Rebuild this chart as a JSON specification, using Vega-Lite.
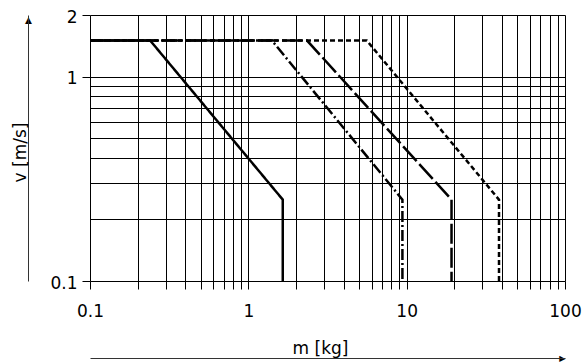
{
  "$schema": "https://vega.github.io/schema/vega-lite/v6.json",
  "width": 475,
  "height": 266,
  "autosize": {"type": "none"},
  "padding": {"left": 90, "top": 15, "right": 18, "bottom": 81},
  "background": "#ffffff",
  "config": {"view": {"stroke": null}, "font": "DejaVu Sans"},
  "data": {
    "values": [
      {"curve": "A", "point": 0, "m": 0.1, "v": 1.5},
      {"curve": "A", "point": 1, "m": 0.24, "v": 1.5},
      {"curve": "A", "point": 2, "m": 1.65, "v": 0.25},
      {"curve": "A", "point": 3, "m": 1.65, "v": 0.1},
      {"curve": "B", "point": 0, "m": 0.1, "v": 1.5},
      {"curve": "B", "point": 1, "m": 1.41, "v": 1.5},
      {"curve": "B", "point": 2, "m": 9.4, "v": 0.25},
      {"curve": "B", "point": 3, "m": 9.4, "v": 0.1},
      {"curve": "C", "point": 0, "m": 0.1, "v": 1.5},
      {"curve": "C", "point": 1, "m": 2.35, "v": 1.5},
      {"curve": "C", "point": 2, "m": 19.2, "v": 0.25},
      {"curve": "C", "point": 3, "m": 19.2, "v": 0.1},
      {"curve": "D", "point": 0, "m": 0.1, "v": 1.5},
      {"curve": "D", "point": 1, "m": 5.6, "v": 1.5},
      {"curve": "D", "point": 2, "m": 38.3, "v": 0.25},
      {"curve": "D", "point": 3, "m": 38.3, "v": 0.1}
    ]
  },
  "resolve": {
    "scale": {"x": "shared", "y": "shared"},
    "axis": {"x": "independent", "y": "independent"}
  },
  "layer": [
    {
      "transform": [{"filter": "datum.curve == 'A' || datum.curve == 'B'"}],
      "mark": {"type": "line", "color": "#000000", "strokeWidth": 2.5, "strokeCap": "butt"},
      "encoding": {
        "x": {
          "field": "m", "type": "quantitative",
          "scale": {"type": "log", "domain": [0.1, 100]},
          "axis": {
            "orient": "bottom",
            "values": [0.1, 0.2, 0.3, 0.4, 0.5, 0.6, 0.7, 0.8, 0.9, 1, 2, 3, 4, 5, 6, 7, 8, 9, 10, 20, 30, 40, 50, 60, 70, 80, 90, 100],
            "title": null,
            "domain": false,
            "grid": true, "gridColor": "#000000", "gridWidth": 1, "gridOpacity": 1,
            "ticks": true, "tickSize": 8, "tickColor": "#000000", "tickWidth": 1,
            "labelExpr": "indexof([0.1, 1, 10, 100], datum.value) >= 0 ? format(datum.value, '~g') : ''",
            "labelFont": "DejaVu Sans", "labelFontSize": 17, "labelColor": "#000000",
            "labelPadding": 14, "labelBaseline": "top",
            "labelFlush": false, "labelOverlap": false, "labelBound": false
          }
        },
        "y": {
          "field": "v", "type": "quantitative",
          "scale": {"type": "log", "domain": [0.1, 2]},
          "axis": {
            "orient": "left",
            "values": [0.1, 0.2, 0.3, 0.4, 0.5, 0.6, 0.7, 0.8, 0.9, 1, 2],
            "title": null,
            "domain": false,
            "grid": true, "gridColor": "#000000", "gridWidth": 1, "gridOpacity": 1,
            "ticks": true, "tickSize": 8, "tickColor": "#000000", "tickWidth": 1,
            "tickOpacity": {"condition": {"test": "indexof([0.1, 1, 2], datum.value) >= 0", "value": 1}, "value": 0},
            "labelExpr": "indexof([0.1, 1, 2], datum.value) >= 0 ? format(datum.value, '~g') : ''",
            "labelFont": "DejaVu Sans", "labelFontSize": 17, "labelColor": "#000000",
            "labelPadding": 5, "labelOffset": 2, "labelBaseline": "middle",
            "labelFlush": false, "labelOverlap": false, "labelBound": false
          }
        },
        "strokeDash": {
          "field": "curve", "type": "nominal",
          "scale": {"domain": ["A", "B", "C", "D"], "range": [[1, 0], [11, 3, 2, 3], [20, 4], [5, 3]]},
          "legend": null
        },
        "order": {"field": "point", "type": "quantitative"}
      }
    },
    {
      "transform": [{"filter": "datum.curve == 'C' || datum.curve == 'D'"}],
      "mark": {"type": "line", "color": "#000000", "strokeWidth": 2.5, "strokeCap": "butt"},
      "encoding": {
        "x": {
          "field": "m", "type": "quantitative",
          "scale": {"type": "log", "domain": [0.1, 100]},
          "axis": {
            "orient": "bottom",
            "offset": 77,
            "values": [100],
            "title": "m [kg]",
            "titleX": 230, "titleY": -5, "titleAlign": "center", "titleBaseline": "alphabetic",
            "titleFont": "DejaVu Sans", "titleFontSize": 17, "titleFontWeight": "normal", "titleColor": "#000000",
            "domain": true, "domainColor": "#333333", "domainWidth": 1,
            "grid": false, "ticks": false, "tickSize": 0,
            "labelExpr": "'▶'",
            "labelAlign": "right", "labelBaseline": "middle", "labelPadding": 0,
            "labelFontSize": 8, "labelColor": "#000000",
            "labelFlush": false, "labelOverlap": false, "labelBound": false
          }
        },
        "y": {
          "field": "v", "type": "quantitative",
          "scale": {"type": "log", "domain": [0.1, 2]},
          "axis": {
            "orient": "left",
            "offset": 62,
            "values": [2],
            "title": "v [m/s]",
            "titleX": -3, "titleY": 137, "titleAngle": -90, "titleAlign": "center", "titleBaseline": "alphabetic",
            "titleFont": "DejaVu Sans", "titleFontSize": 17, "titleFontWeight": "normal", "titleColor": "#000000",
            "domain": true, "domainColor": "#333333", "domainWidth": 1,
            "grid": false, "ticks": false, "tickSize": 0,
            "labelExpr": "'▲'",
            "labelAlign": "center", "labelBaseline": "top", "labelPadding": 0, "labelAngle": 0,
            "labelFontSize": 9, "labelColor": "#000000",
            "labelFlush": false, "labelOverlap": false, "labelBound": false
          }
        },
        "strokeDash": {
          "field": "curve", "type": "nominal",
          "scale": {"domain": ["A", "B", "C", "D"], "range": [[1, 0], [11, 3, 2, 3], [20, 4], [5, 3]]},
          "legend": null
        },
        "order": {"field": "point", "type": "quantitative"}
      }
    }
  ]
}
